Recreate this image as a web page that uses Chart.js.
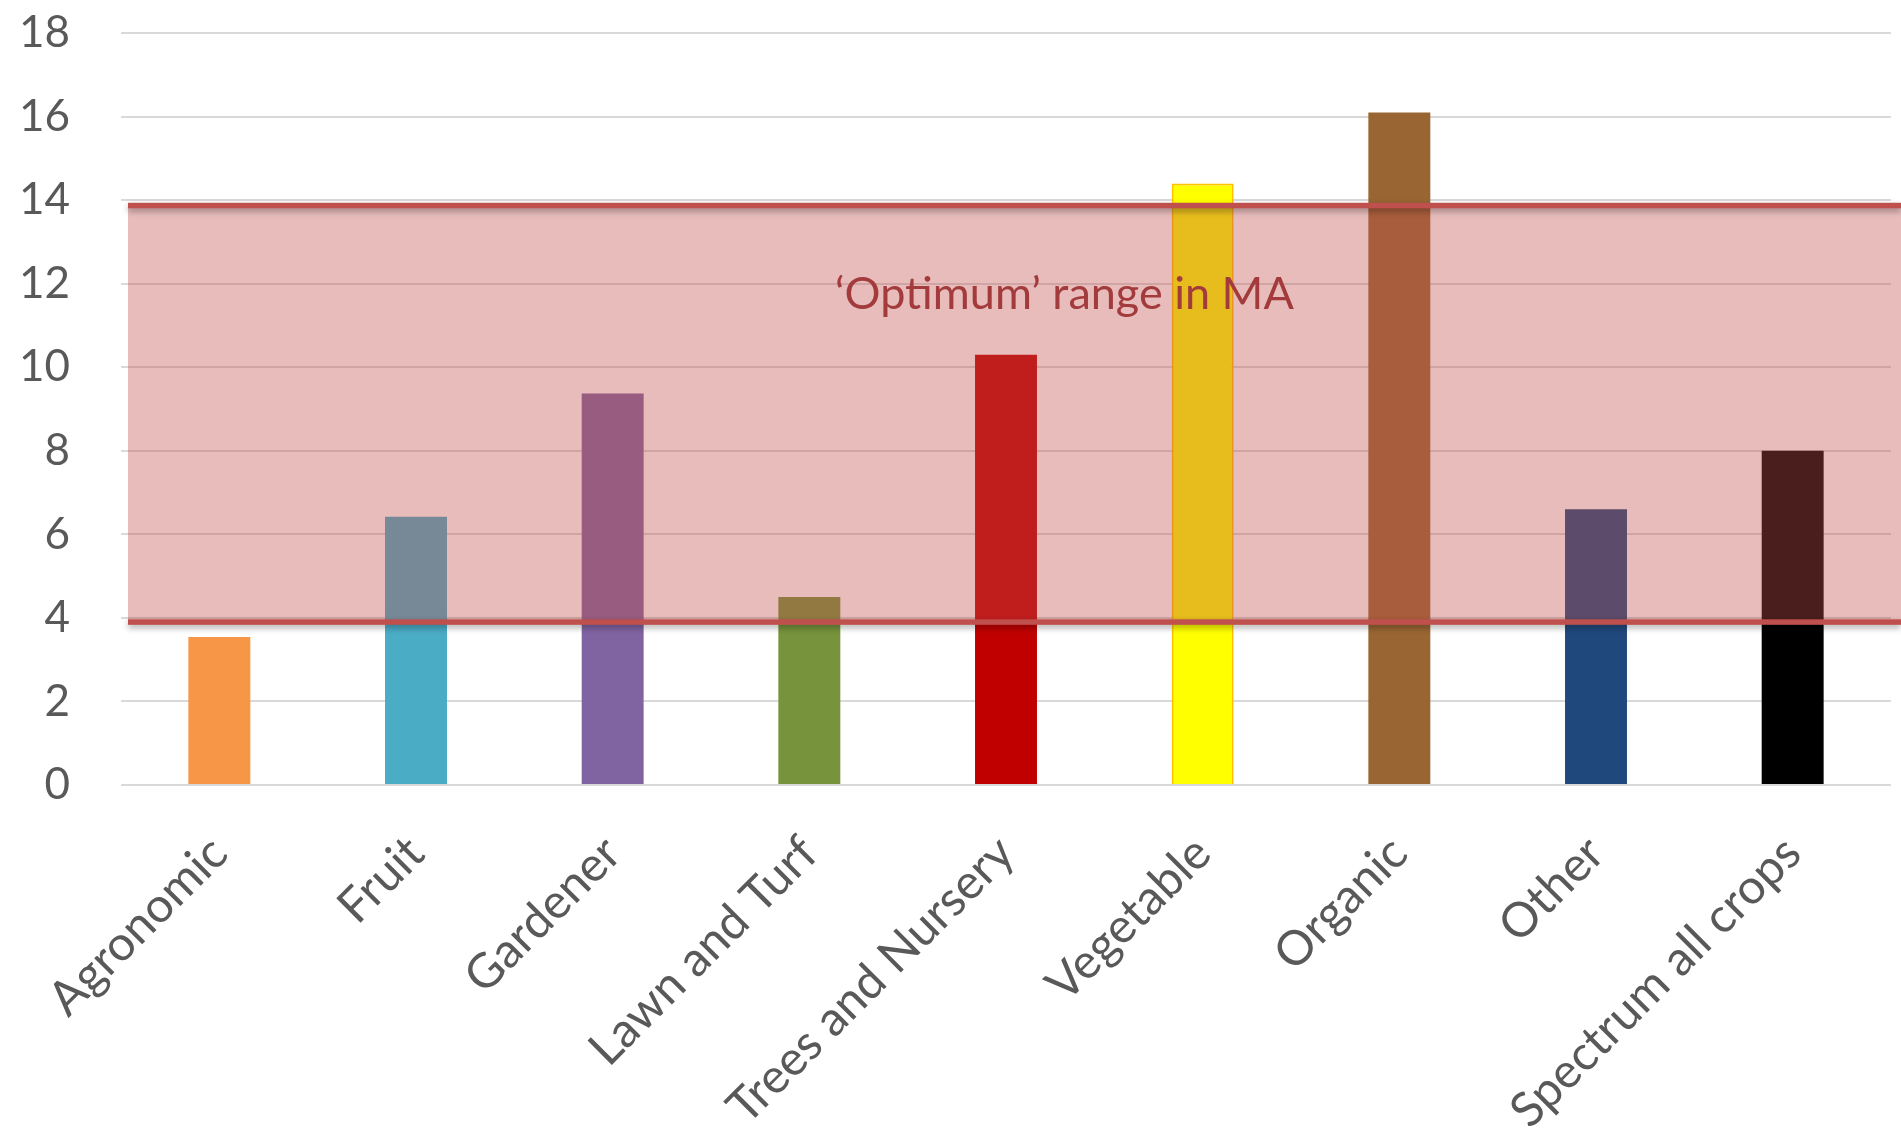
<!DOCTYPE html>
<html>
<head>
<meta charset="utf-8">
<title>Crop categories</title>
<script src="https://cdn.jsdelivr.net/npm/chart.js@4/dist/chart.umd.min.js"></script>
<style>
  html, body { margin: 0; padding: 0; background: #ffffff; }
  #wrap { width: 1901px; height: 1139px; position: relative; }
</style>
</head>
<body>
<div id="wrap"><canvas id="chart"></canvas></div>
<script>
// Categories along the x axis
const categories = [
  'Agronomic', 'Fruit', 'Gardener', 'Lawn and Turf', 'Trees and Nursery',
  'Vegetable', 'Organic', 'Other', 'Spectrum all crops'
];
// Bar values per category
const values = [3.54, 6.42, 9.37, 4.5, 10.3, 14.4, 16.1, 6.6, 8.0];
// Bar fill colours
const barColors = [
  '#F79646', '#4BACC6', '#8064A2', '#77933C', '#C00000',
  '#FFFF00', '#996633', '#1F497D', '#000000'
];
const barBorders = [
  '#F79646', '#4BACC6', '#8064A2', '#77933C', '#C00000',
  '#FFC000', '#996633', '#1F497D', '#000000'
];
const barBorderWidths = [0, 0, 0, 0, 0, 2, 0, 0, 0];
// Y axis tick values
const yTicks = [0, 2, 4, 6, 8, 10, 12, 14, 16, 18];
// Lower and upper bound of the optimum band
const optimumRange = [3.9, 13.87];
const optimumLabel = '\u2018Optimum\u2019 range in MA';

const FONT = 'Lato, "Open Sans", sans-serif';

// Shaded optimum band drawn over the bars
const bandPlugin = {
  id: 'optimumBand',
  afterDatasetsDraw(chart) {
    const { ctx, chartArea, scales } = chart;
    const yLow = scales.y.getPixelForValue(optimumRange[0]);
    const yHigh = scales.y.getPixelForValue(optimumRange[1]);
    const x0 = chartArea.left + 7;
    const x1 = chart.width;
    ctx.save();
    ctx.fillStyle = 'rgba(192,80,77,0.38)';
    ctx.fillRect(x0, yHigh, x1 - x0, yLow - yHigh);

    ctx.shadowColor = 'rgba(0,0,0,0.35)';
    ctx.shadowBlur = 6;
    ctx.shadowOffsetY = 3;
    ctx.fillStyle = '#C0504D';
    const lw = 5.5;
    ctx.fillRect(x0, yHigh - lw / 2, x1 - x0, lw);
    ctx.fillRect(x0, yLow - lw / 2, x1 - x0, lw);
    ctx.restore();

    ctx.save();
    ctx.font = '45px ' + FONT;
    ctx.fillStyle = '#A33B3D';
    ctx.textAlign = 'center';
    ctx.textBaseline = 'alphabetic';
    const tx = chartArea.left + 0.533 * (chartArea.right - chartArea.left);
    const ty = chartArea.top + 0.3666 * (chartArea.bottom - chartArea.top);
    ctx.fillText(optimumLabel, tx, ty);
    ctx.restore();
  }
};

new Chart(document.getElementById('chart'), {
  type: 'bar',
  data: {
    labels: categories,
    datasets: [{
      data: values,
      backgroundColor: barColors,
      borderColor: barBorders,
      borderWidth: barBorderWidths,
      categoryPercentage: 0.315,
      barPercentage: 1
    }]
  },
  options: {
    responsive: true,
    maintainAspectRatio: false,
    animation: false,
    layout: { padding: { top: 33, right: 10, left: 0, bottom: 0 } },
    plugins: {
      legend: { display: false },
      tooltip: { enabled: false }
    },
    scales: {
      x: {
        grid: { display: false, drawTicks: false },
        border: { display: false },
        ticks: {
          color: '#595959',
          font: { family: FONT, size: 48 },
          minRotation: 45,
          maxRotation: 45,
          autoSkip: false,
          padding: 40
        },
        afterFit(scale) { scale.height = 354; scale.paddingLeft = 0; scale.paddingRight = 0; }
      },
      y: {
        min: 0,
        max: 18,
        afterBuildTicks(scale) { scale.ticks = yTicks.map(v => ({ value: v })); },
        grid: { color: '#D9D9D9', lineWidth: 2, drawTicks: false },
        border: { display: false },
        ticks: {
          color: '#595959',
          font: { family: FONT, size: 44 },
          padding: 51
        },
        afterFit(scale) { scale.width = 121; scale.paddingTop = 0; scale.paddingBottom = 0; }
      }
    }
  },
  plugins: [bandPlugin]
});
</script>
</body>
</html>
